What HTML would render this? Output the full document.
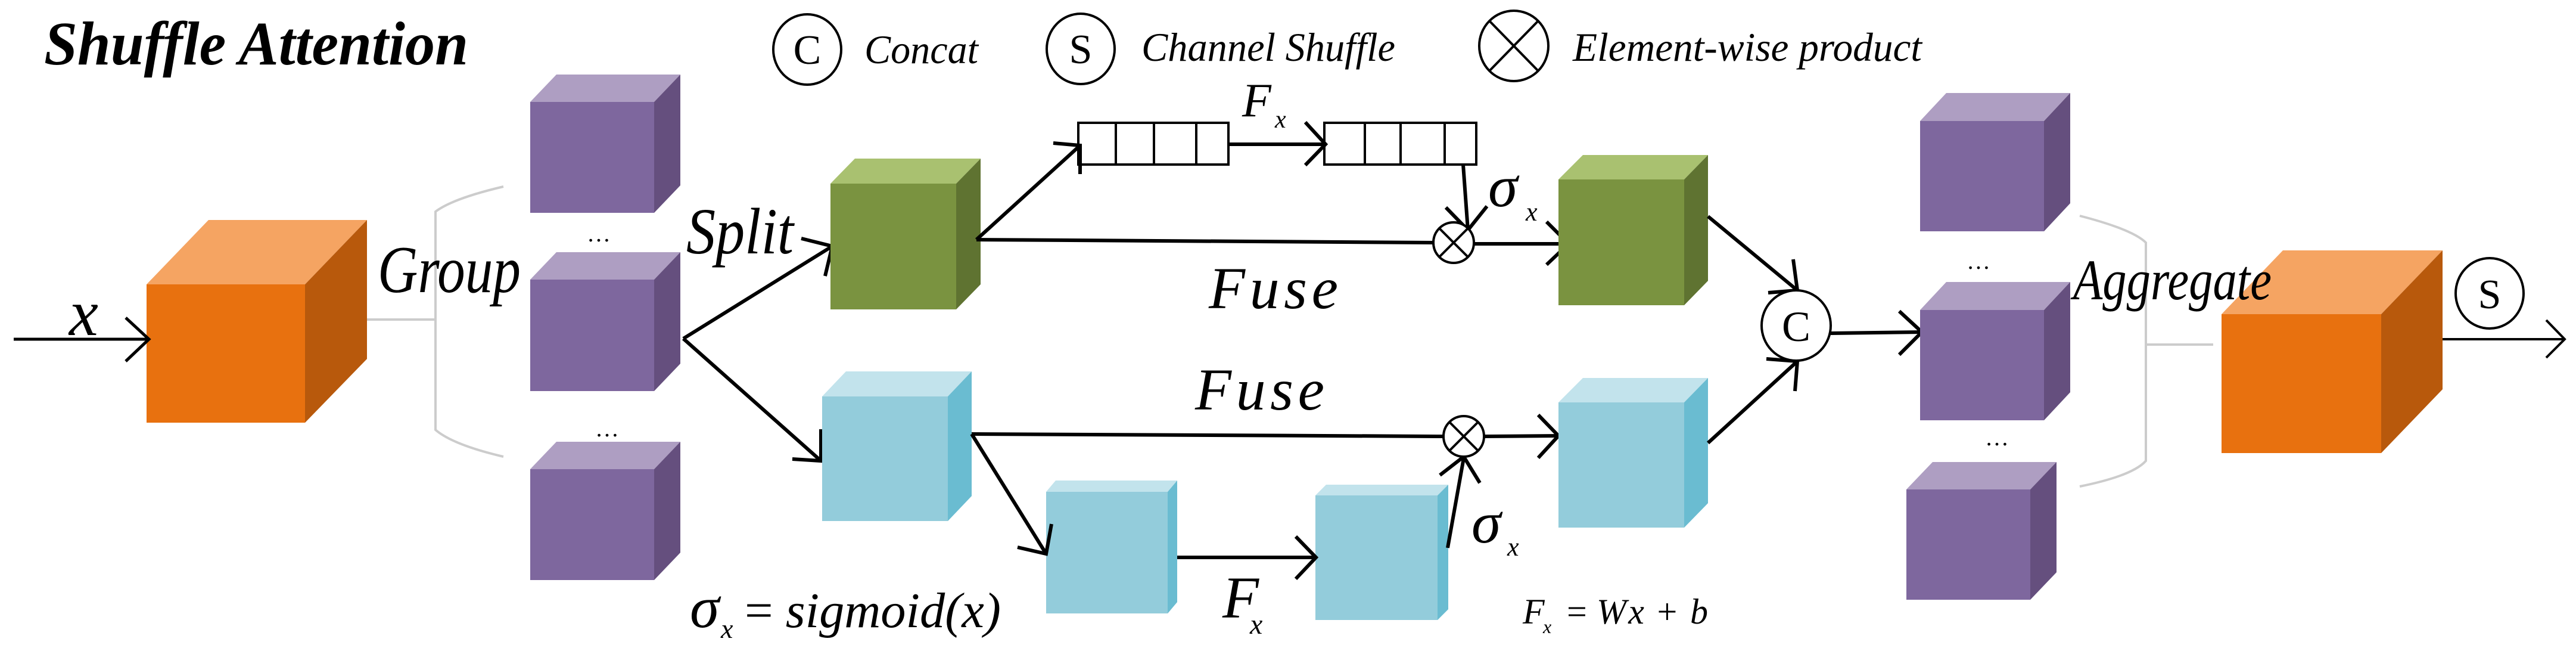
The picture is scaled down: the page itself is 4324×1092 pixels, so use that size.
<!DOCTYPE html>
<html><head><meta charset="utf-8"><style>html,body{margin:0;padding:0;background:#fff}svg{display:block}
svg text{font-family:"Liberation Serif","DejaVu Serif",serif;font-style:italic}
svg text.n, svg tspan.n{font-style:normal}</style></head>
<body>
<svg width="4324" height="1092" viewBox="0 0 4324 1092" xmlns="http://www.w3.org/2000/svg">
<rect width="4324" height="1092" fill="#fff"/>
<!-- Title -->
<text x="74" y="108" font-size="104" font-weight="bold" textLength="712" lengthAdjust="spacingAndGlyphs">Shuffle Attention</text>
<!-- Legend -->
<ellipse cx="1355" cy="83" rx="57" ry="59" fill="none" stroke="#000" stroke-width="4"/>
<text class="n" x="1355" y="107" font-size="70" text-anchor="middle">C</text>
<text x="1451" y="106" font-size="68" textLength="191" lengthAdjust="spacingAndGlyphs">Concat</text>
<ellipse cx="1814" cy="82" rx="57" ry="59" fill="none" stroke="#000" stroke-width="4"/>
<text class="n" x="1814" y="106" font-size="70" text-anchor="middle">S</text>
<text x="1916" y="102" font-size="68" textLength="426" lengthAdjust="spacingAndGlyphs">Channel Shuffle</text>
<ellipse cx="2541" cy="77" rx="58" ry="59" fill="none" stroke="#000" stroke-width="4"/>
<line x1="2500" y1="35" x2="2582" y2="119" stroke="#000" stroke-width="4"/>
<line x1="2582" y1="35" x2="2500" y2="119" stroke="#000" stroke-width="4"/>
<text x="2640" y="102" font-size="68" textLength="586" lengthAdjust="spacingAndGlyphs">Element-wise product</text>

<!-- Orange cube left -->
<polygon points="246,477 350,369 616,369 512,477" fill="#F5A462"/>
<polygon points="512,477 616,369 616,602 512,709" fill="#B8590C"/>
<rect x="246" y="477" width="266" height="232" fill="#E8710F"/>
<g stroke="#000" stroke-width="5" fill="none">
<line x1="23" y1="569" x2="250" y2="569"/>
<polyline points="211,533 250,569 211,606"/>
</g>
<text x="116" y="562" font-size="110">x</text>

<path d="M616,536 H731 M845,313 Q760,333 731,355 V721 Q760,746 845,766" fill="none" stroke="#ccc" stroke-width="4"/>
<text x="634" y="490" font-size="112" textLength="240" lengthAdjust="spacingAndGlyphs">Group</text>

<g>
<polygon points="890,171 934,125 1142,125 1098,171" fill="#AE9EC2"/><polygon points="1098,171 1142,125 1142,311 1098,357" fill="#654F7E"/><rect x="890" y="171" width="208" height="186" fill="#7E679E"/>
<polygon points="890,469 934,423 1142,423 1098,469" fill="#AE9EC2"/><polygon points="1098,469 1142,423 1142,610 1098,656" fill="#654F7E"/><rect x="890" y="469" width="208" height="187" fill="#7E679E"/>
<polygon points="890,787 934,741 1142,741 1098,787" fill="#AE9EC2"/><polygon points="1098,787 1142,741 1142,927 1098,973" fill="#654F7E"/><rect x="890" y="787" width="208" height="186" fill="#7E679E"/>
</g>
<text class="n" x="985" y="405" font-size="40">…</text>
<text class="n" x="999" y="732" font-size="40">…</text>
<text x="1152" y="425" font-size="110" textLength="180" lengthAdjust="spacingAndGlyphs">Split</text>

<g stroke="#000" stroke-width="6" fill="none">
<line x1="1147" y1="568" x2="1397" y2="413"/>
<polyline points="1345,400 1397,413 1385,463"/>
<line x1="1147" y1="568" x2="1378" y2="773"/>
<polyline points="1330,770 1378,773 1378,720"/>
</g>

<polygon points="1394,308 1435,266 1646,266 1605,308" fill="#A9C170"/>
<polygon points="1605,308 1646,266 1646,477 1605,519" fill="#5F7331"/>
<rect x="1394" y="308" width="211" height="211" fill="#7A9340"/>
<polygon points="1380,665 1420,623 1631,623 1591,665" fill="#C2E3EC"/>
<polygon points="1591,665 1631,623 1631,832 1591,874" fill="#6ABCD1"/>
<rect x="1380" y="665" width="211" height="209" fill="#93CCDB"/>

<g stroke="#000" stroke-width="4" fill="#fff">
<rect x="1810" y="206" width="252" height="70"/>
<line x1="1873" y1="206" x2="1873" y2="276"/><line x1="1937" y1="206" x2="1937" y2="276"/><line x1="2008" y1="206" x2="2008" y2="276"/>
<rect x="2223" y="206" width="255" height="70"/>
<line x1="2291" y1="206" x2="2291" y2="276"/><line x1="2351" y1="206" x2="2351" y2="276"/><line x1="2425" y1="206" x2="2425" y2="276"/>
</g>
<g stroke="#000" stroke-width="6" fill="none">
<line x1="1639" y1="402" x2="1813" y2="244"/>
<polyline points="1768,240 1813,244 1813,292"/>
<line x1="2062" y1="242" x2="2223" y2="242"/>
<polyline points="2191,205 2225,242 2191,277"/>
<line x1="1639" y1="402" x2="2406" y2="407"/>
<line x1="2456" y1="276" x2="2464" y2="386"/>
<polyline points="2427,348 2464,386 2496,346"/>
<line x1="2473" y1="409" x2="2633" y2="409"/>
<polyline points="2596,372 2633,409 2596,444"/>
</g>
<g stroke="#000" stroke-width="4" fill="#fff">
<circle cx="2440" cy="407" r="34"/>
<line x1="2416" y1="383" x2="2464" y2="431"/><line x1="2464" y1="383" x2="2416" y2="431"/>
</g>
<text x="2085" y="195" font-size="80">F</text>
<text x="2140" y="214" font-size="42">x</text>
<text x="2498" y="346" font-size="100">σ</text>
<text x="2561" y="370" font-size="44">x</text>
<text x="2029" y="517" font-size="100" textLength="217" lengthAdjust="spacing">Fuse</text>

<polygon points="2616,301 2657,260 2867,260 2827,301" fill="#A9C170"/>
<polygon points="2827,301 2867,260 2867,471 2827,512" fill="#5F7331"/>
<rect x="2616" y="301" width="211" height="211" fill="#7A9340"/>

<text x="2006" y="687" font-size="100" textLength="217" lengthAdjust="spacing">Fuse</text>
<polygon points="1756,825 1772,806 1976,806 1960,825" fill="#C2E3EC"/>
<polygon points="1960,825 1976,806 1976,1010 1960,1029" fill="#6ABCD1"/>
<rect x="1756" y="825" width="204" height="204" fill="#93CCDB"/>
<polygon points="2208,831 2226,813 2431,813 2413,831" fill="#C2E3EC"/>
<polygon points="2413,831 2431,813 2431,1022 2413,1040" fill="#6ABCD1"/>
<rect x="2208" y="831" width="205" height="209" fill="#93CCDB"/>
<g stroke="#000" stroke-width="6" fill="none">
<line x1="1631" y1="728" x2="2422" y2="732"/>
<line x1="2491" y1="732" x2="2616" y2="731"/>
<polyline points="2582,696 2616,731 2582,768"/>
<line x1="1631" y1="728" x2="1756" y2="929"/>
<polyline points="1708,918 1756,929 1765,879"/>
<line x1="1976" y1="935" x2="2209" y2="935"/>
<polyline points="2175,900 2209,935 2175,971"/>
<line x1="2430" y1="919" x2="2457" y2="768"/>
<polyline points="2417,797 2457,766 2484,810"/>
</g>
<g stroke="#000" stroke-width="4" fill="#fff">
<circle cx="2457" cy="732" r="34"/>
<line x1="2433" y1="708" x2="2481" y2="756"/><line x1="2481" y1="708" x2="2433" y2="756"/>
</g>
<text x="2052" y="1036" font-size="100">F</text>
<text x="2098" y="1063" font-size="48">x</text>
<text x="2470" y="910" font-size="100">σ</text>
<text x="2530" y="932" font-size="44">x</text>
<text x="2556" y="1046" font-size="60">F</text>
<text x="2590" y="1062" font-size="32">x</text>
<text class="n" x="2630" y="1046" font-size="60">=</text>
<text x="2680" y="1046" font-size="60" textLength="187" lengthAdjust="spacing">Wx <tspan class="n">+</tspan> b</text>

<text x="1158" y="1052" font-size="100">σ</text>
<text x="1210" y="1070" font-size="46">x</text>
<text x="1250" y="1052" font-size="84" textLength="430" lengthAdjust="spacingAndGlyphs"><tspan class="n">=</tspan> sigmoid(x)</text>

<polygon points="2616,675 2657,634 2867,634 2827,675" fill="#C2E3EC"/>
<polygon points="2827,675 2867,634 2867,844 2827,885" fill="#6ABCD1"/>
<rect x="2616" y="675" width="211" height="210" fill="#93CCDB"/>

<g stroke="#000" stroke-width="6" fill="none">
<line x1="2867" y1="363" x2="3017" y2="487"/>
<polyline points="2968,491 3017,487 3010,435"/>
<line x1="2867" y1="743" x2="3017" y2="606"/>
<polyline points="2965,602 3017,606 3013,656"/>
<line x1="3073" y1="559" x2="3226" y2="557"/>
<polyline points="3188,522 3226,557 3188,595"/>
</g>
<ellipse cx="3015" cy="546" rx="58" ry="59" fill="#fff" stroke="#000" stroke-width="4"/>
<text class="n" x="3015" y="572" font-size="72" text-anchor="middle">C</text>

<polygon points="3223,203 3267,156 3475,156 3431,203" fill="#AE9EC2"/><polygon points="3431,203 3475,156 3475,341 3431,388" fill="#654F7E"/><rect x="3223" y="203" width="208" height="185" fill="#7E679E"/>
<polygon points="3223,520 3267,473 3475,473 3431,520" fill="#AE9EC2"/><polygon points="3431,520 3475,473 3475,658 3431,705" fill="#654F7E"/><rect x="3223" y="520" width="208" height="185" fill="#7E679E"/>
<polygon points="3200,821 3244,775 3452,775 3408,821" fill="#AE9EC2"/><polygon points="3408,821 3452,775 3452,960 3408,1006" fill="#654F7E"/><rect x="3200" y="821" width="208" height="185" fill="#7E679E"/>
<text class="n" x="3301" y="451" font-size="40">…</text>
<text class="n" x="3332" y="747" font-size="40">…</text>

<path d="M3491,362 Q3580,385 3602,407 V773 Q3580,798 3491,816 M3602,578 H3715" fill="none" stroke="#ccc" stroke-width="4"/>

<polygon points="3729,527 3832,420 4100,420 3997,527" fill="#F5A462"/>
<polygon points="3997,527 4100,420 4100,653 3997,760" fill="#B8590C"/>
<rect x="3729" y="527" width="268" height="233" fill="#E8710F"/>
<text x="3480" y="502" font-size="96" textLength="333" lengthAdjust="spacingAndGlyphs">Aggregate</text>

<ellipse cx="4179" cy="492" rx="57" ry="59" fill="none" stroke="#000" stroke-width="4"/>
<text class="n" x="4179" y="517" font-size="70" text-anchor="middle">S</text>
<g stroke="#000" stroke-width="4" fill="none">
<line x1="4100" y1="569" x2="4305" y2="569"/>
<polyline points="4274,537 4305,569 4274,600"/>
</g>
</svg>
</body></html>
